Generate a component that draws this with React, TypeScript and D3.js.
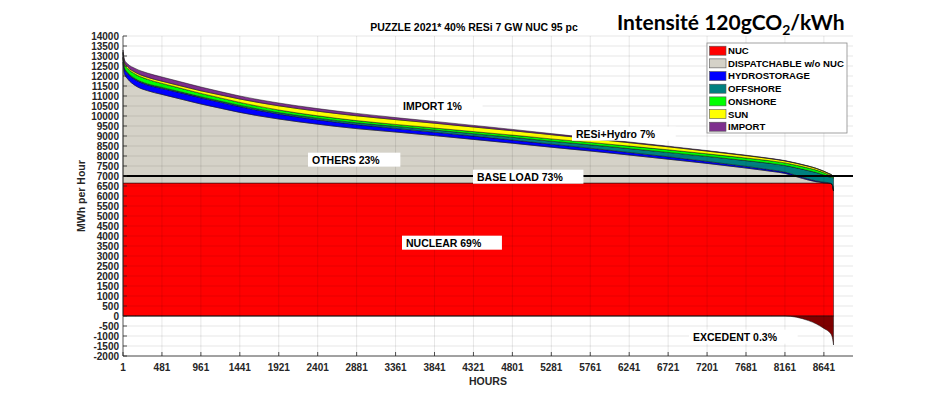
import React, { useEffect, useRef } from 'react';
import * as d3 from 'd3';

// sorted hours (load duration curve), MWh per hour for each layer
const HOURS = [1, 20, 60, 150, 300, 481, 700, 961, 1200, 1441, 1921, 2401, 2881, 3361, 3841, 4321, 4801, 5281, 5761, 6241, 6721, 7201, 7681, 8000, 8161, 8300, 8450, 8550, 8641, 8700, 8740, 8760];
const NUC = [6650, 6650, 6650, 6650, 6650, 6650, 6650, 6650, 6650, 6650, 6650, 6650, 6650, 6650, 6650, 6650, 6650, 6650, 6650, 6650, 6650, 6650, 6650, 6650, 6650, 6650, 6650, 6650, 6650, 6645, 6600, 6250];
const DISPATCH = [6050, 5450, 5200, 4880, 4620, 4430, 4210, 3950, 3740, 3530, 3200, 2940, 2720, 2550, 2370, 2180, 1990, 1790, 1600, 1400, 1190, 980, 750, 580, 480, 320, 150, 60, 10, 0, 0, 0];
const HYDRO = [220, 260, 270, 290, 290, 300, 310, 310, 300, 290, 250, 220, 200, 180, 170, 165, 160, 150, 140, 130, 120, 100, 80, 70, 65, 60, 50, 40, 30, 20, 10, 5];
const OFFSHORE = [40, 40, 45, 50, 50, 50, 50, 50, 55, 60, 70, 80, 90, 100, 110, 120, 135, 150, 170, 190, 220, 250, 290, 320, 330, 380, 420, 420, 360, 300, 320, 640];
const ONSHORE = [180, 200, 210, 230, 230, 200, 180, 170, 160, 150, 130, 120, 110, 100, 100, 105, 110, 115, 120, 125, 130, 130, 130, 130, 130, 130, 130, 125, 115, 100, 80, 60];
const SUN = [60, 70, 75, 90, 100, 110, 120, 130, 150, 170, 210, 230, 240, 240, 240, 230, 220, 210, 190, 170, 150, 135, 120, 105, 100, 95, 90, 80, 70, 60, 35, 20];
const IMPORT = [100, 130, 150, 190, 210, 210, 200, 190, 165, 150, 140, 130, 120, 100, 90, 80, 65, 55, 40, 35, 30, 25, 20, 15, 15, 15, 10, 5, 5, 5, 5, 5];
const EXCEDENT = [0, 0, 0, 0, 0, 0, 0, 0, 0, 0, 0, 0, 0, 0, 0, 0, 0, 0, 0, 0, 0, 0, 0, 0, 0, -60, -230, -400, -620, -780, -1000, -1450];

const SERIES = ['NUC', 'DISPATCHABLE w/o NUC', 'HYDROSTORAGE', 'OFFSHORE', 'ONSHORE', 'SUN', 'IMPORT'];
const COLORS = ['#ff0000', '#d5d2c8', '#0000ff', '#008080', '#00ff00', '#ffff00', '#7e2f8e'];
const X_TICKS = [1, 481, 961, 1441, 1921, 2401, 2881, 3361, 3841, 4321, 4801, 5281, 5761, 6241, 6721, 7201, 7681, 8161, 8641];
const Y_TICKS = d3.range(-2000, 14001, 500);

const NOTES = [
  { text: 'IMPORT 1%', x: 403, y: 106 },
  { text: 'RESi+Hydro 7%', x: 576, y: 134 },
  { text: 'OTHERS 23%', x: 312, y: 160 },
  { text: 'BASE LOAD 73%', x: 477, y: 177 },
  { text: 'NUCLEAR 69%', x: 406, y: 243 },
  { text: 'EXCEDENT 0.3%', x: 693, y: 337 },
];

const W = 944;
const H = 399;
const FONT = '"Liberation Sans", Arial, sans-serif';

const draw = (svgEl: d3.Selection<SVGSVGElement, any, any, any>) => {
  const x = d3.scaleLinear().domain([1, 9000]).range([123, 853]);
  const y = d3.scaleLinear().domain([-2000, 14000]).range([356, 36]);

  const layers = [NUC, DISPATCH, HYDRO, OFFSHORE, ONSHORE, SUN, IMPORT];
  const rows = HOURS.map((h, i) => {
    const r: any = { h };
    SERIES.forEach((k, j) => (r[k] = layers[j][i]));
    return r;
  });
  const stacked = d3.stack<any>().keys(SERIES)(rows);

  const area = d3
    .area<any>()
    .x((d) => x(d.data.h))
    .y0((d) => y(d[0]))
    .y1((d) => y(d[1]))
    .curve(d3.curveMonotoneX);

  svgEl.append('rect').attr('x', 123).attr('y', 36).attr('width', 730).attr('height', 320).attr('fill', '#fff');

  svgEl
    .append('g')
    .selectAll('path')
    .data(stacked)
    .join('path')
    .attr('d', area)
    .attr('fill', (_, i) => COLORS[i])
    .attr('stroke', '#111')
    .attr('stroke-width', 0.5);

  const exArea = d3
    .area<number>()
    .x((_, i) => x(HOURS[i]))
    .y0(y(0))
    .y1((d) => y(d))
    .curve(d3.curveMonotoneX);
  svgEl
    .append('path')
    .attr('d', exArea(EXCEDENT))
    .attr('fill', '#7f0000')
    .attr('stroke', '#111')
    .attr('stroke-width', 0.5);

  // grid on top, light like matlab
  const grid = svgEl.append('g').attr('stroke', 'rgba(0,0,0,0.12)').attr('stroke-width', 0.8);
  grid
    .selectAll('.gy')
    .data(Y_TICKS)
    .join('line')
    .attr('x1', 123)
    .attr('x2', 853)
    .attr('y1', (d) => y(d))
    .attr('y2', (d) => y(d));
  grid
    .selectAll('.gx')
    .data(X_TICKS.slice(1))
    .join('line')
    .attr('x1', (d) => x(d))
    .attr('x2', (d) => x(d))
    .attr('y1', 36)
    .attr('y2', 356);

  // base load line
  svgEl
    .append('line')
    .attr('x1', 123)
    .attr('x2', 853)
    .attr('y1', y(7000))
    .attr('y2', y(7000))
    .attr('stroke', '#000')
    .attr('stroke-width', 2);

  // axes
  const axes = svgEl.append('g').attr('stroke', '#262626').attr('stroke-width', 0.8);
  axes.append('line').attr('x1', 123).attr('x2', 123).attr('y1', 36).attr('y2', 356);
  axes.append('line').attr('x1', 123).attr('x2', 853).attr('y1', 356).attr('y2', 356);
  axes
    .selectAll('.ty')
    .data(Y_TICKS)
    .join('line')
    .attr('x1', 123)
    .attr('x2', 127)
    .attr('y1', (d) => y(d))
    .attr('y2', (d) => y(d));
  axes
    .selectAll('.tx')
    .data(X_TICKS)
    .join('line')
    .attr('x1', (d) => x(d))
    .attr('x2', (d) => x(d))
    .attr('y1', 356)
    .attr('y2', 352);

  const txt = svgEl.append('g').attr('font-family', FONT).attr('font-weight', 'bold').attr('fill', '#262626');
  txt
    .selectAll('.ly')
    .data(Y_TICKS)
    .join('text')
    .attr('x', 119)
    .attr('y', (d) => y(d))
    .attr('dy', '0.35em')
    .attr('text-anchor', 'end')
    .attr('font-size', 10)
    .text((d) => d);
  txt
    .selectAll('.lx')
    .data(X_TICKS)
    .join('text')
    .attr('x', (d) => x(d))
    .attr('y', 371)
    .attr('text-anchor', 'middle')
    .attr('font-size', 10)
    .text((d) => d);
  txt
    .append('text')
    .attr('x', 488)
    .attr('y', 385)
    .attr('text-anchor', 'middle')
    .attr('font-size', 10.5)
    .text('HOURS');
  txt
    .append('text')
    .attr('transform', 'translate(85,196) rotate(-90)')
    .attr('text-anchor', 'middle')
    .attr('font-size', 10.5)
    .text('MWh per Hour');
  txt
    .append('text')
    .attr('x', 474)
    .attr('y', 31)
    .attr('text-anchor', 'middle')
    .attr('font-size', 10.5)
    .attr('fill', '#000')
    .text('PUZZLE 2021* 40% RESi 7 GW NUC 95 pc');

  // annotations with white boxes
  const notes = svgEl.append('g').attr('font-family', FONT).attr('font-weight', 'bold').attr('font-size', 10.5);
  NOTES.forEach((n) => {
    const g = notes.append('g');
    const rect = g.append('rect').attr('fill', '#fff');
    const t = g.append('text').attr('x', n.x).attr('y', n.y).attr('dy', '0.35em').attr('fill', '#000').text(n.text);
    const bb = (t.node() as SVGTextElement).getBBox();
    rect
      .attr('x', bb.x - 4)
      .attr('y', bb.y - 1)
      .attr('width', bb.width + 24)
      .attr('height', bb.height + 2);
  });

  // legend
  const lg = svgEl.append('g').attr('font-family', FONT).attr('font-weight', 'bold').attr('font-size', 9.6);
  lg.append('rect')
    .attr('x', 707)
    .attr('y', 43)
    .attr('width', 140)
    .attr('height', 90)
    .attr('fill', '#fff')
    .attr('stroke', '#8a8a8a')
    .attr('stroke-width', 0.8);
  SERIES.forEach((s, i) => {
    const cy = 50.7 + i * 12.67;
    lg.append('rect')
      .attr('x', 709.5)
      .attr('y', cy - 4.5)
      .attr('width', 16.5)
      .attr('height', 9)
      .attr('fill', COLORS[i])
      .attr('stroke', '#555')
      .attr('stroke-width', 0.6);
    lg.append('text').attr('x', 728).attr('y', cy).attr('dy', '0.36em').attr('fill', '#000').text(s);
  });

  // intensity header
  const head = svgEl
    .append('text')
    .attr('x', 617)
    .attr('y', 30)
    .attr('font-family', 'Lato, "Open Sans", sans-serif')
    .attr('font-size', 21)
    .attr('font-weight', 'bold')
    .attr('fill', '#000');
  head.append('tspan').text('Intensité 120gCO');
  head.append('tspan').attr('font-size', 14).attr('dy', 5).text('2');
  head.append('tspan').attr('dy', -5).text('/kWh');
};

const App: React.FC = () => {
  const svgRef = useRef<SVGSVGElement>(null);

  useEffect(() => {
    if (svgRef.current === null) {
      return;
    }
    const svgEl: d3.Selection<SVGSVGElement, any, any, any> = d3.select(svgRef.current);
    svgEl.selectAll('*').remove();
    draw(svgEl);
  }, []);

  return (
    <svg
      ref={svgRef}
      width={W}
      height={H}
      style={{ position: 'absolute', left: 0, top: 0, background: '#fff', display: 'block' }}
    ></svg>
  );
};

export default App;
